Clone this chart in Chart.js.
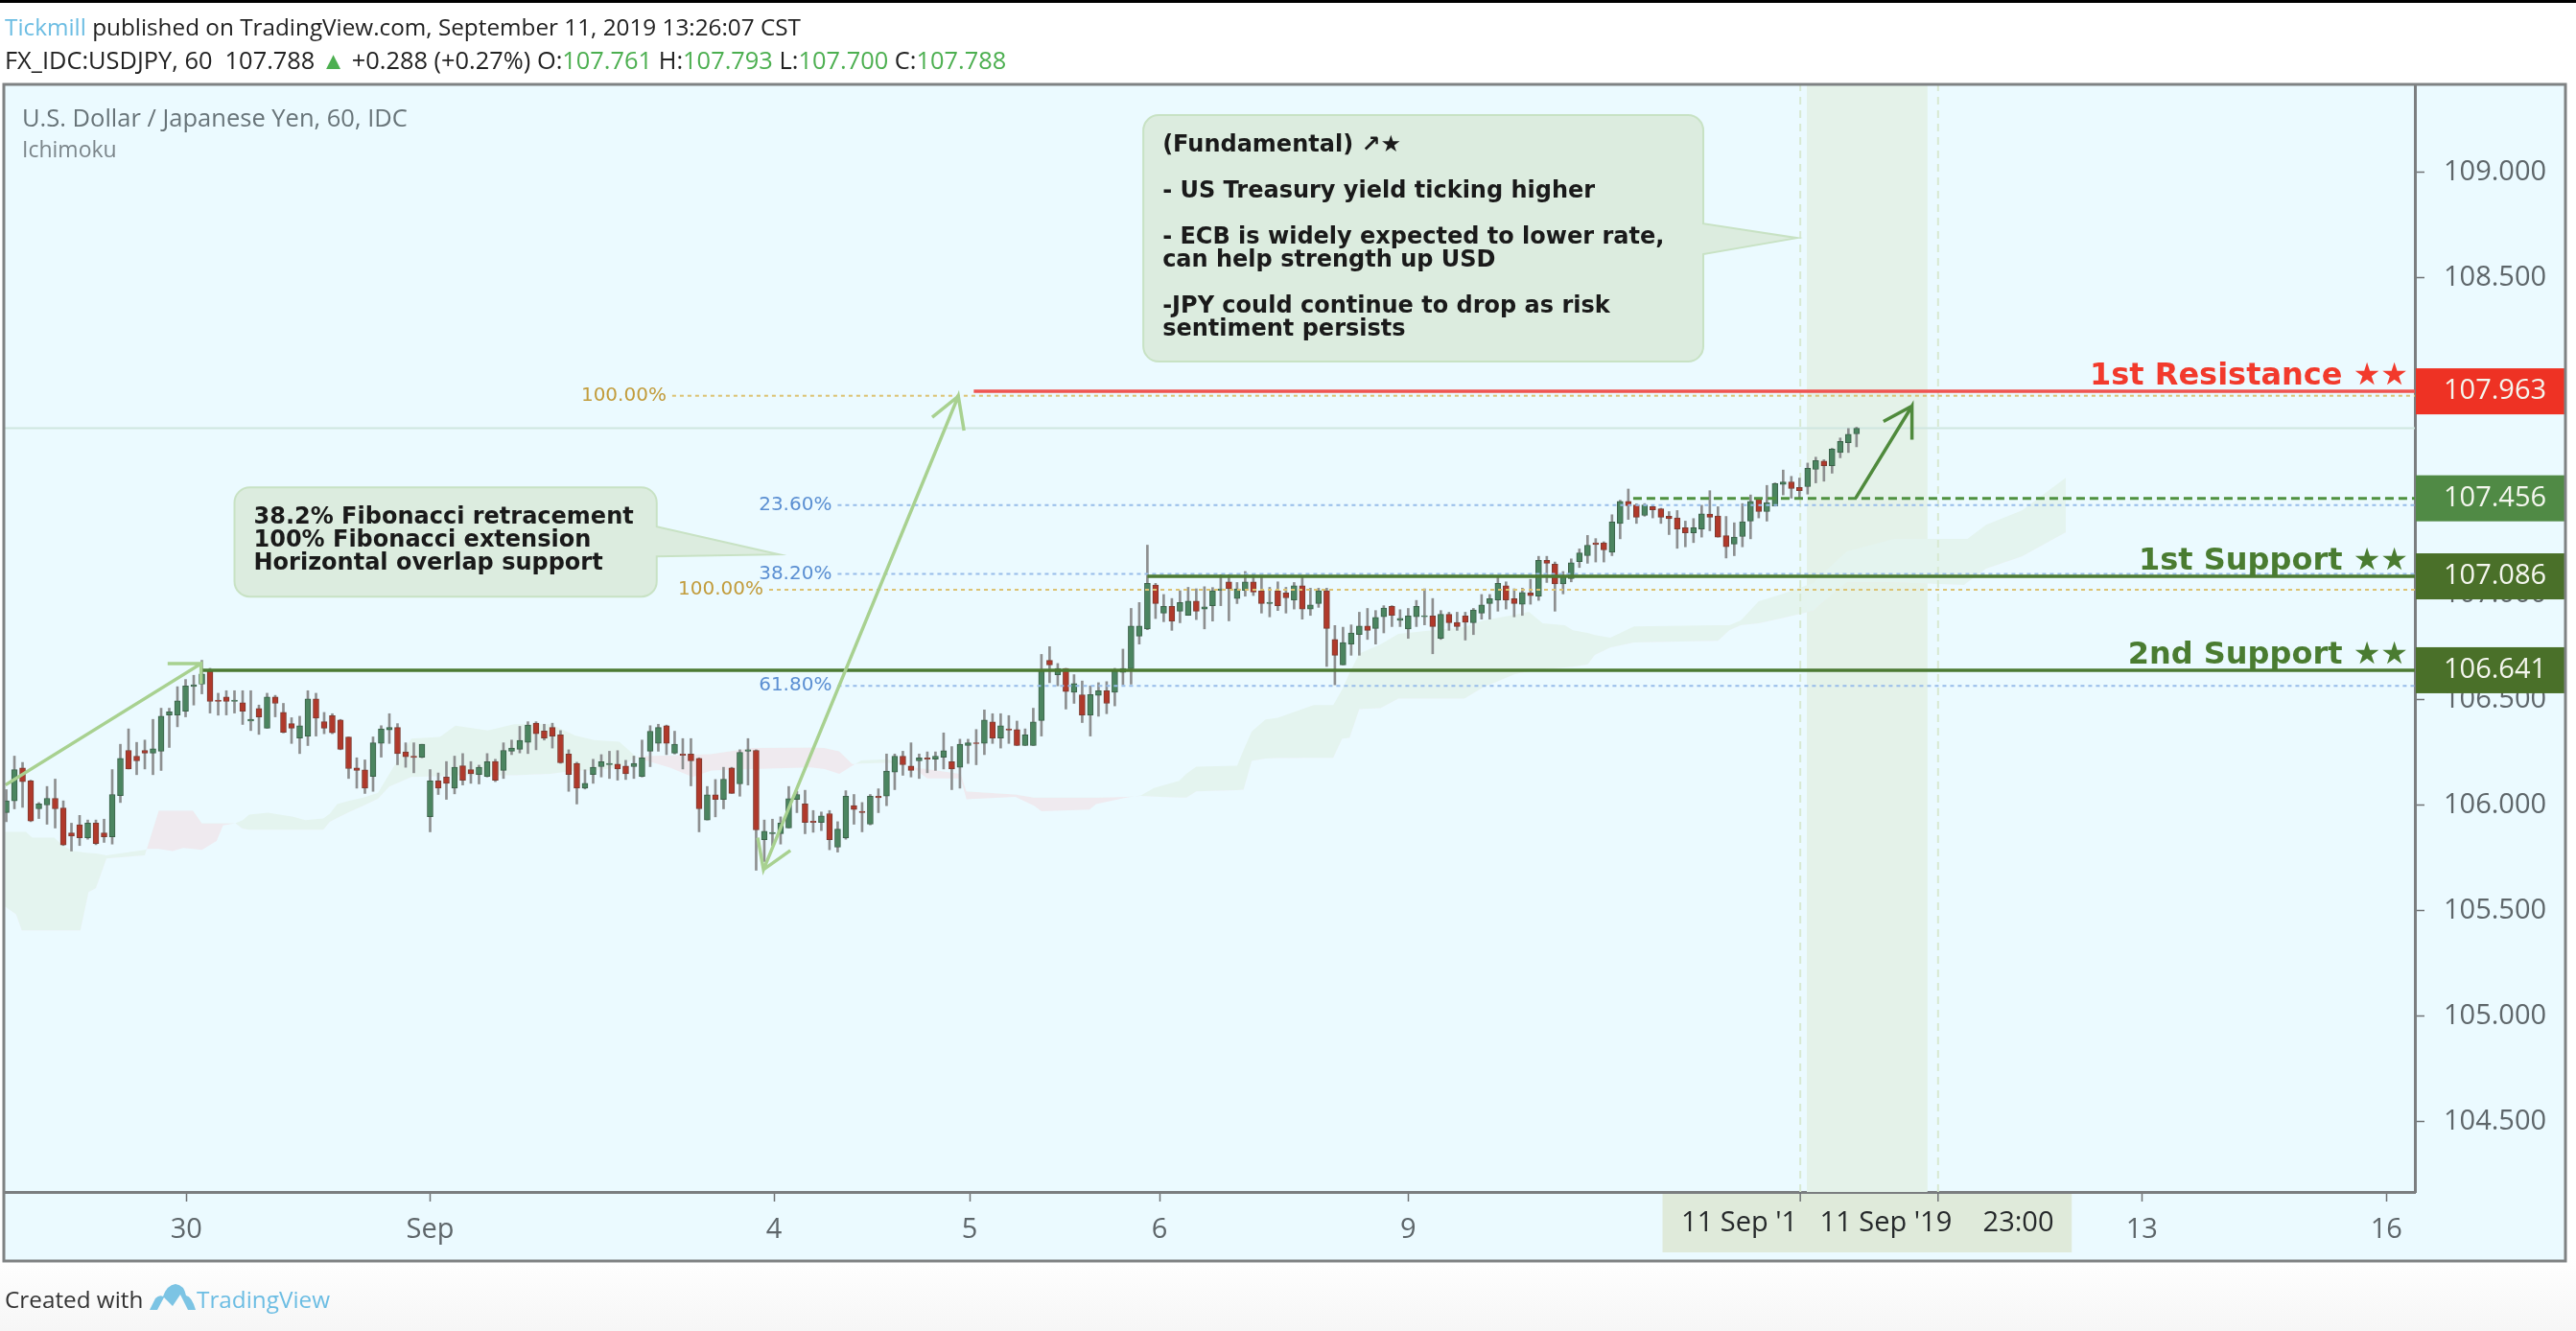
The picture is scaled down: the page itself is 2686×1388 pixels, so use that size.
<!DOCTYPE html>
<html>
<head>
<meta charset="utf-8">
<title>USDJPY 60</title>
<script src="https://cdn.jsdelivr.net/npm/chart.js@4"></script>
<style>
  html, body { margin: 0; padding: 0; }
  body { width: 2686px; height: 1388px; overflow: hidden; position: relative;
         background: linear-gradient(to bottom, #fff 0, #fff 1310px, #f6f6f6 1388px); }
  #topbar { position: absolute; left: 0; top: 0; width: 2686px; height: 3px; background: #000; }
  canvas { position: absolute; left: 0; top: 0; filter: blur(0.6px); }
  .head { position: absolute; left: 5px; font: 24.3px/30px "Open Sans", sans-serif; color: #222; white-space: pre; filter: blur(0.4px); }
  .blue { color: #6cbde3; }
  .up { color: #4caf50; }
  #footer { position: absolute; left: 5px; top: 1340px; font: 24.3px/30px "Open Sans", sans-serif; color: #333; filter: blur(0.4px); }
  #footer svg { position: absolute; left: 151px; top: -2px; }
  #footer span { position: absolute; left: 200px; top: 0; }
</style>
</head>
<body>
<div id="topbar"></div>
<div class="head" style="top:13px"><span class="blue">Tickmill</span> published on TradingView.com, September 11, 2019 13:26:07 CST</div>
<div class="head" style="top:47px;font-size:25.4px">FX_IDC:USDJPY, 60  107.788 <span class="up">▲</span> +0.288 (+0.27%) O:<span class="up">107.761</span> H:<span class="up">107.793</span> L:<span class="up">107.700</span> C:<span class="up">107.788</span></div>
<canvas id="chart" width="2686" height="1388"></canvas>
<div id="footer">Created with
  <svg width="48" height="30" viewBox="0 0 48 30"><path fill="#7cc4e4" d="M0 28 L6 16 Q10 12 14 14 Q18 2 27 1 Q36 2 38 13 Q44 14 48 28 L40 28 L32 12 L24 24 L15 15 L8 28 Z"/></svg>
  <span class="blue">TradingView</span>
</div>

<script>
// candles, one per hour
const candleOpen = [
  105.966,106.022,106.178,106.117,105.984,106.002,106.034,105.988,105.870,105.908,
  105.847,105.916,105.870,105.851,106.047,106.261,106.234,106.261,106.248,106.257,
  106.429,106.429,106.447,106.564,106.575,106.635,106.499,106.514,106.493,106.487,
  106.400,106.460,106.366,106.514,106.441,106.388,106.320,106.329,106.505,106.397,
  106.426,106.405,106.325,106.178,106.169,106.138,106.294,106.358,106.370,106.254,
  106.234,106.229,105.947,106.117,106.135,106.082,106.188,106.170,106.147,106.138,
  106.208,106.166,106.257,106.266,106.299,106.390,106.353,106.370,106.335,106.244,
  106.199,106.082,106.147,106.184,106.193,106.196,106.187,106.184,106.138,106.257,
  106.294,106.378,106.248,106.244,106.244,106.223,105.931,106.051,106.029,106.178,
  106.102,106.257,106.261,105.838,105.866,105.866,105.893,106.029,106.007,105.926,
  105.920,105.961,105.802,105.847,105.999,105.972,105.911,106.044,106.044,106.158,
  106.234,106.187,106.211,106.226,106.219,106.229,106.207,106.181,106.284,106.297,
  106.294,106.396,106.320,106.363,106.360,106.284,106.284,106.403,106.688,106.620,
  106.650,106.537,106.525,106.429,106.522,106.544,106.537,106.631,106.648,106.803,
  106.836,107.045,106.912,106.944,106.921,106.901,106.969,106.931,106.947,107.019,
  107.060,106.981,107.019,107.060,107.018,106.957,107.018,107.007,106.974,107.042,
  106.931,106.957,107.018,106.787,106.666,106.765,106.810,106.851,106.839,106.894,
  106.944,106.878,106.837,106.894,106.894,106.898,106.792,106.906,106.868,106.898,
  106.866,106.912,106.957,106.974,107.042,106.980,106.954,107.007,106.992,107.162,
  107.144,107.050,107.075,107.156,107.184,107.245,107.245,107.200,107.337,107.442,
  107.424,107.375,107.416,107.406,107.371,107.363,107.317,107.292,107.310,107.381,
  107.372,107.279,107.239,107.275,107.348,107.454,107.393,107.420,107.522,107.534,
  107.507,107.511,107.593,107.632,107.610,107.673,107.719,107.761
];
const candleHigh = [
  106.075,106.234,106.204,106.120,106.014,106.090,106.125,106.022,105.916,105.953,
  105.931,105.931,105.935,106.170,106.290,106.363,106.299,106.310,106.408,106.461,
  106.461,106.563,106.597,106.617,106.688,106.650,106.532,106.544,106.544,106.544,
  106.544,106.476,106.532,106.522,106.484,106.416,106.423,106.544,106.532,106.441,
  106.435,106.408,106.325,106.226,106.216,106.325,106.378,106.435,106.388,106.297,
  106.297,106.290,106.170,106.154,106.208,106.234,106.246,106.208,106.191,106.246,
  106.219,106.297,106.310,106.375,106.397,106.397,106.385,106.390,106.355,106.264,
  106.205,106.169,106.219,106.241,106.257,106.260,106.214,106.234,106.310,106.378,
  106.385,106.381,106.352,106.317,106.317,106.226,106.090,106.123,106.181,106.181,
  106.264,106.317,106.264,105.931,105.935,105.946,106.090,106.067,106.072,105.976,
  105.969,105.976,105.923,106.070,106.052,106.014,106.052,106.079,106.244,106.244,
  106.257,106.297,106.244,106.254,106.254,106.344,106.279,106.314,106.314,106.360,
  106.453,106.435,106.435,106.426,106.400,106.363,106.461,106.716,106.753,106.673,
  106.650,106.620,106.590,106.567,106.582,106.587,106.650,106.741,106.934,106.962,
  107.234,107.053,107.000,106.981,107.018,107.034,107.027,107.037,107.033,107.094,
  107.094,107.057,107.109,107.098,107.083,107.034,107.060,107.034,107.057,107.083,
  107.030,107.030,107.030,106.853,106.845,106.856,106.916,106.934,106.924,106.947,
  106.947,106.928,106.934,106.972,107.027,106.981,106.924,106.916,106.916,106.916,
  106.934,107.000,107.000,107.083,107.060,107.027,107.030,107.072,107.181,107.181,
  107.154,107.109,107.169,107.216,107.280,107.265,107.250,107.378,107.447,107.500,
  107.430,107.431,107.424,107.409,107.393,107.398,107.348,107.360,107.423,107.492,
  107.416,107.370,107.340,107.431,107.472,107.457,107.517,107.529,107.590,107.560,
  107.552,107.623,107.651,107.639,107.693,107.742,107.787,107.793
];
const candleLow = [
  105.923,105.984,105.991,105.923,105.938,105.911,105.893,105.810,105.784,105.810,
  105.840,105.814,105.825,105.817,106.014,106.173,106.146,106.173,106.146,106.166,
  106.275,106.373,106.420,106.476,106.529,106.438,106.428,106.429,106.438,106.384,
  106.355,106.337,106.366,106.420,106.344,106.294,106.246,106.284,106.329,106.340,
  106.340,106.264,106.128,106.082,106.057,106.067,106.229,106.294,106.193,106.181,
  106.155,106.226,105.875,106.052,106.029,106.055,106.097,106.105,106.102,106.135,
  106.113,106.128,106.241,106.249,106.246,106.264,106.310,106.272,106.200,106.067,
  106.007,106.078,106.105,106.135,106.128,106.120,106.123,106.128,106.135,106.184,
  106.257,106.241,106.244,106.173,106.093,105.875,105.931,105.946,105.984,106.057,
  106.044,106.097,105.693,105.734,105.810,105.817,105.893,105.966,105.866,105.873,
  105.881,105.790,105.779,105.840,105.911,105.875,105.908,105.966,105.999,106.075,
  106.143,106.135,106.128,106.155,106.166,106.173,106.075,106.082,106.199,106.193,
  106.241,106.294,106.272,106.294,106.284,106.284,106.284,106.329,106.582,106.567,
  106.457,106.484,106.393,106.329,106.423,106.435,106.472,106.572,106.575,106.765,
  106.833,106.886,106.871,106.830,106.866,106.901,106.881,106.837,106.874,106.947,
  106.875,106.957,106.992,106.995,106.912,106.894,106.924,106.912,106.931,106.883,
  106.901,106.939,106.659,106.572,106.666,106.712,106.712,106.787,106.765,106.818,
  106.848,106.848,106.792,106.848,106.856,106.719,106.787,106.830,106.830,106.784,
  106.810,106.883,106.883,106.921,106.931,106.894,106.901,106.954,106.972,107.057,
  106.921,107.003,107.060,107.128,107.148,107.154,107.154,107.184,107.264,107.356,
  107.337,107.371,107.363,107.337,107.284,107.219,107.226,107.246,107.272,107.302,
  107.272,107.173,107.184,107.226,107.264,107.363,107.348,107.419,107.472,107.457,
  107.454,107.476,107.529,107.537,107.575,107.648,107.673,107.700
];
const candleClose = [
  106.022,106.170,106.113,105.926,106.007,106.034,105.984,105.813,105.855,105.847,
  105.916,105.820,105.851,106.052,106.223,106.173,106.211,106.248,106.269,106.423,
  106.444,106.496,106.567,106.572,106.623,106.493,106.493,106.493,106.499,106.447,
  106.408,106.420,106.514,106.484,106.347,106.366,106.378,106.505,106.414,106.366,
  106.344,106.266,106.175,106.166,106.082,106.297,106.363,106.370,106.246,106.231,
  106.228,106.290,106.117,106.082,106.105,106.181,106.120,106.150,106.181,106.207,
  106.120,106.261,106.272,106.308,106.381,106.340,106.320,106.329,106.202,106.147,
  106.082,106.105,106.181,106.207,106.199,106.173,106.150,106.199,106.226,106.352,
  106.370,106.294,106.290,106.238,106.211,105.984,106.051,106.029,106.125,106.057,
  106.252,106.264,105.884,105.878,105.872,105.916,106.032,106.052,105.920,105.920,
  105.951,105.838,105.888,106.044,105.981,105.966,106.044,106.037,106.163,106.234,
  106.193,106.166,106.226,106.219,106.234,106.260,106.173,106.290,106.297,106.293,
  106.405,106.320,106.378,106.357,106.284,106.335,106.396,106.643,106.666,106.650,
  106.540,106.578,106.429,106.526,106.544,106.484,106.638,106.650,106.851,106.851,
  107.053,106.957,106.944,106.874,106.962,106.969,106.921,106.942,107.018,107.027,
  107.027,107.027,107.060,107.012,106.957,106.963,106.947,106.984,107.042,106.931,
  106.951,107.018,106.839,106.712,106.772,106.818,106.851,106.830,106.891,106.936,
  106.901,106.887,106.898,106.944,106.900,106.848,106.906,106.866,106.848,106.868,
  106.927,106.951,106.980,107.053,106.974,106.957,107.010,106.995,107.162,107.148,
  107.050,107.083,107.151,107.197,107.234,107.237,107.212,107.344,107.442,107.421,
  107.366,107.424,107.401,107.366,107.359,107.310,107.292,107.317,107.382,107.366,
  107.272,107.226,107.272,107.345,107.442,107.393,107.436,107.526,107.534,107.502,
  107.492,107.598,107.635,107.610,107.689,107.726,107.760,107.788
];

// Ichimoku cloud edges, bar position and the two spans
const cloudIndex = [
  -0.2,1.2,1.9,2.4,3.2,5.9,6.9,8.2,9.1,10.1,11,12.3,17,17.3,18.7,20.4,21.7,22.9,24,25.8,26.6,28.1,
  29,29.8,32.1,35.2,36.7,38.9,39.7,40.6,42.1,43.8,45.6,47,48.1,49.7,53.2,55.1,59.1,62.3,66.8,69.8,
  72.1,75.2,77.2,77.7,81.5,84.2,86.5,91.5,98.7,100.4,102.2,103.8,104.9,108.1,109.7,111.7,113,117.1,
  117.8,123.8,126.1,127,132.9,133.7,137.4,139.2,140.8,143.9,144.8,146,151,151.8,152.8,154.5,156,
  160.4,162.8,163.9,164.8,166,168.6,170.8,175,178.9,181.2,185.1,186.8,188.5,191.2,192.2,194,194.9,
  196.8,199.7,210,211.4,212.8,215,217.7,221.7,222.6,225.8,231.6,240.2,240.6,242.9,247.3,252.7
];
const cloudSpanA = [
  105.875,105.875,105.875,105.875,105.847,105.847,105.810,105.784,105.779,105.775,105.772,105.764,105.790,105.794,105.794,105.784,105.799,105.794,105.790,105.832,105.905,105.916,
  105.931,105.957,105.966,105.946,105.931,105.938,105.961,106.007,106.022,106.037,106.060,106.150,106.219,106.317,106.325,106.378,106.355,106.385,106.385,106.332,
  106.310,106.302,106.234,106.223,106.178,106.135,106.166,106.173,106.181,106.173,106.150,106.188,106.214,106.219,106.199,106.166,106.128,106.128,
  106.029,106.041,105.999,105.973,105.981,106.007,106.037,106.048,106.083,106.117,106.151,106.184,106.189,106.264,106.351,106.408,106.416,
  106.476,106.476,106.550,106.628,106.720,106.763,106.813,106.831,106.845,106.877,106.904,106.918,106.863,106.854,106.831,106.818,106.808,
  106.795,106.849,106.854,106.854,106.877,106.968,107.000,107.054,107.090,107.204,107.263,107.263,107.263,107.331,107.399,107.554
];
const cloudSpanB = [
  105.522,105.484,105.408,105.408,105.408,105.408,105.408,105.408,105.408,105.590,105.608,105.749,105.764,105.802,105.976,105.976,105.976,105.976,105.916,105.916,105.916,105.916,
  105.890,105.885,105.885,105.885,105.885,105.885,105.923,105.941,105.969,105.999,106.032,106.090,106.108,106.135,106.138,106.143,106.143,106.143,106.150,106.166,
  106.166,106.181,106.226,106.234,106.237,106.241,106.244,106.272,106.275,106.272,106.257,106.196,106.199,106.202,106.196,106.178,106.173,106.150,
  106.067,106.052,106.037,106.037,106.037,106.037,106.041,106.045,106.042,106.037,106.037,106.067,106.072,106.075,106.211,106.223,106.225,
  106.226,106.226,106.317,106.320,106.457,106.461,106.507,106.507,106.507,106.560,106.622,106.636,106.645,106.654,106.658,106.668,106.713,
  106.749,106.772,106.781,106.831,106.854,106.863,106.886,106.922,106.954,107.058,107.058,107.045,107.058,107.122,107.181,107.295
];

// horizontal levels
const resistanceLevel = 107.963;
const supportLevel1 = 107.086;
const supportLevel2 = 106.641;
const dashedLevel = 107.456;
const fib100Upper = 107.942;
const fib100Lower = 107.022;
const fib236 = 107.424;
const fib382 = 107.097;
const fib618 = 106.567;
const lastPrice = 107.788;

// drawn arrows as bar position / price paths (heads included)
const arrowUpX = [19.8, 23.9, 23.9, 23.9, -0.1];
const arrowUpY = [106.672, 106.672, 106.576, 106.672, 106.097];
const arrowFibX = [113.6, 116.8, 117.5, 116.8, 92.9, 92.2, 92.9, 96.2];
const arrowFibY = [107.840, 107.940, 107.777, 107.940, 105.696, 105.847, 105.696, 105.787];
const arrowNextX = [230.3, 233.8, 233.8, 233.8, 226.9];
const arrowNextY = [107.820, 107.893, 107.734, 107.893, 107.457];

// axis
const priceMin = 104.168;
const priceMax = 109.418;
const priceTicks = [104.5, 105, 105.5, 106, 106.5, 107, 107.5, 108, 108.5, 109];
const barMin = -0.18;
const barMax = 295.5;
const xTickIndex = [22.1, 52, 94.2, 118.2, 141.5, 172, 220.1, 237, 262, 292];
const xTickLabels = ['30', 'Sep', '4', '5', '6', '9', '', '', '13', '16'];
const rangeStart = 220.1;
const rangeEnd = 237;
const bandStart = 220.9;
const bandEnd = 235.7;

const GREEN_BODY = '#4b8560', GREEN_EDGE = '#3b6149';
const RED_BODY = '#b0392b', RED_EDGE = '#7c3b31';
const LABEL_FONT = '"DejaVu Sans", sans-serif';
const AXIS_FONT = '"Open Sans", sans-serif';

function hline(y, from, to, color, width, dash, order) {
    return {
        type: 'line', data: [{ x: from, y: y }, { x: to, y: y }],
        borderColor: color, borderWidth: width, borderDash: dash || [],
        pointRadius: 0, fill: false, order: order
    };
}

function pathLine(xs, ys, color) {
    return {
        type: 'line', data: xs.map((x, i) => ({ x: x, y: ys[i] })),
        borderColor: color, borderWidth: 3.5, pointRadius: 0, fill: false, order: 0
    };
}

const isUp = candleOpen.map((o, i) => candleClose[i] >= o);
const datasets = [
    // cloud
    {
        type: 'line', data: cloudIndex.map((x, i) => ({ x: x, y: cloudSpanA[i] })),
        borderWidth: 0, pointRadius: 0, order: 20,
        fill: { target: '+1', above: '#e4f4ef', below: '#efeaef' }
    },
    {
        type: 'line', data: cloudIndex.map((x, i) => ({ x: x, y: cloudSpanB[i] })),
        borderWidth: 0, pointRadius: 0, order: 20, fill: false
    },
    // date range edges
    {
        type: 'line', data: [{ x: rangeStart, y: priceMin }, { x: rangeStart, y: priceMax }],
        borderColor: '#d8e9d2', borderWidth: 2, borderDash: [8, 6], pointRadius: 0, order: 19
    },
    {
        type: 'line', data: [{ x: rangeEnd, y: priceMin }, { x: rangeEnd, y: priceMax }],
        borderColor: '#d8e9d2', borderWidth: 2, borderDash: [8, 6], pointRadius: 0, order: 19
    },
    // wicks then bodies
    {
        type: 'bar', grouped: false, barThickness: 2, order: 6,
        data: candleHigh.map((h, i) => ({ x: i, y: [candleLow[i], h] })),
        backgroundColor: '#8d8f90', borderWidth: 0
    },
    {
        type: 'bar', grouped: false, barThickness: 6, order: 5,
        data: candleOpen.map((o, i) => ({ x: i, y: [o, candleClose[i]] })),
        backgroundColor: isUp.map(u => u ? GREEN_BODY : RED_BODY),
        borderColor: isUp.map(u => u ? GREEN_EDGE : RED_EDGE),
        borderWidth: 1, borderSkipped: false
    },
    // levels
    hline(lastPrice, barMin, barMax, '#cfe6e0', 2, null, 10),
    hline(fib100Upper, 81.7, barMax, '#dcc272', 2, [4, 4], 3),
    hline(fib100Lower, 93.6, barMax, '#dcc272', 2, [4, 4], 3),
    hline(fib236, 102, barMax, '#97bce9', 2, [4, 4], 3),
    hline(fib382, 102, barMax, '#97bce9', 2, [4, 4], 3),
    hline(fib618, 102, barMax, '#97bce9', 2, [4, 4], 3),
    hline(resistanceLevel, 118.7, barMax, '#ef5350', 3.5, null, 2),
    hline(dashedLevel, 199.6, barMax, '#4f9140', 3, [9, 5], 2),
    hline(supportLevel1, 140, barMax, '#4c7a33', 3.5, null, 2),
    hline(supportLevel2, 24, barMax, '#4c7a33', 3.5, null, 2),
    // arrows
    pathLine(arrowUpX, arrowUpY, '#a8d190'),
    pathLine(arrowFibX, arrowFibY, '#a8d190'),
    pathLine(arrowNextX, arrowNextY, '#4f8a3c')
];

function callout(ctx, sc, box, lines) {
    const x0 = sc.x.getPixelForValue(box.left), x1 = sc.x.getPixelForValue(box.right);
    const y0 = sc.y.getPixelForValue(box.top), y1 = sc.y.getPixelForValue(box.bottom);
    const r = 16;
    ctx.beginPath();
    ctx.moveTo(x0 + r, y0);
    ctx.arcTo(x1, y0, x1, y1, r);
    ctx.lineTo(x1, sc.y.getPixelForValue(box.baseTop));
    ctx.lineTo(sc.x.getPixelForValue(box.tipX), sc.y.getPixelForValue(box.tipY));
    ctx.lineTo(x1, sc.y.getPixelForValue(box.baseBottom));
    ctx.arcTo(x1, y1, x0, y1, r);
    ctx.arcTo(x0, y1, x0, y0, r);
    ctx.arcTo(x0, y0, x1, y0, r);
    ctx.closePath();
    ctx.fillStyle = '#dcecdf';
    ctx.strokeStyle = '#c8e2c4';
    ctx.lineWidth = 2;
    ctx.fill();
    ctx.stroke();
    ctx.fillStyle = '#1a1a1a';
    ctx.font = 'bold 24px ' + LABEL_FONT;
    ctx.textAlign = 'left';
    ctx.textBaseline = 'middle';
    lines.forEach(l => ctx.fillText(l[0], x0 + 20, y0 + l[1]));
}

function priceTag(ctx, chart, value, color) {
    const area = chart.chartArea;
    const y = chart.scales.y.getPixelForValue(value);
    ctx.fillStyle = color;
    ctx.fillRect(area.right + 1, y - 24, chart.scales.y.right - area.right - 1, 48);
    ctx.fillStyle = '#f4f6ee';
    ctx.font = '29px ' + AXIS_FONT;
    ctx.textAlign = 'left';
    ctx.textBaseline = 'middle';
    ctx.fillText(value.toFixed(3), area.right + 30, y);
}

function levelText(ctx, chart, text, level, color) {
    ctx.fillStyle = color;
    ctx.font = 'bold 32px ' + LABEL_FONT;
    ctx.textAlign = 'right';
    ctx.textBaseline = 'alphabetic';
    ctx.fillText(text, chart.chartArea.right - 7, chart.scales.y.getPixelForValue(level) - 7);
}

function fibText(ctx, chart, text, index, level, color) {
    ctx.fillStyle = color;
    ctx.font = '20px ' + LABEL_FONT;
    ctx.textAlign = 'right';
    ctx.textBaseline = 'middle';
    ctx.fillText(text, chart.scales.x.getPixelForValue(index) - 6, chart.scales.y.getPixelForValue(level));
}

const paneDecor = {
    id: 'paneDecor',
    beforeDraw(chart) {
        const { ctx, chartArea, scales } = chart;
        ctx.save();
        ctx.fillStyle = '#ebfaff';
        ctx.fillRect(chartArea.left, chartArea.top, scales.y.right - chartArea.left, scales.x.bottom - chartArea.top);
        ctx.restore();
    },
    beforeDatasetsDraw(chart) {
        const { ctx, chartArea, scales } = chart;
        const x0 = scales.x.getPixelForValue(bandStart), x1 = scales.x.getPixelForValue(bandEnd);
        ctx.save();
        ctx.fillStyle = '#e4f2e9';
        ctx.fillRect(x0, chartArea.top, x1 - x0, chartArea.bottom - chartArea.top);
        ctx.restore();
    },
    afterDraw(chart) {
        const { ctx, chartArea, scales } = chart;
        ctx.save();

        // date range label on the time axis
        const bx0 = scales.x.getPixelForValue(203.2), bx1 = scales.x.getPixelForValue(253.4);
        ctx.fillStyle = '#dfeada';
        ctx.fillRect(bx0, chartArea.bottom + 2, bx1 - bx0, 61);
        ctx.fillStyle = '#26292b';
        ctx.font = '29px ' + AXIS_FONT;
        ctx.textAlign = 'left';
        ctx.textBaseline = 'middle';
        ctx.fillText("11 Sep '1", scales.x.getPixelForValue(205.5), chartArea.bottom + 33);
        ctx.fillText("11 Sep '19", scales.x.getPixelForValue(222.5), chartArea.bottom + 33);
        ctx.fillText('23:00', scales.x.getPixelForValue(242.5), chartArea.bottom + 33);
        // tick marks stay visible on top of that label
        ctx.strokeStyle = '#6f7274';
        ctx.lineWidth = 1.5;
        [rangeStart, rangeEnd].forEach(v => {
            const x = scales.x.getPixelForValue(v);
            ctx.beginPath();
            ctx.moveTo(x, chartArea.bottom);
            ctx.lineTo(x, chartArea.bottom + 10);
            ctx.stroke();
        });

        priceTag(ctx, chart, resistanceLevel, '#ee3224');
        priceTag(ctx, chart, dashedLevel, '#508a45');
        priceTag(ctx, chart, supportLevel1, '#4a7029');
        priceTag(ctx, chart, supportLevel2, '#4a7029');

        levelText(ctx, chart, '1st Resistance ★★', resistanceLevel, '#f23a2c');
        levelText(ctx, chart, '1st Support ★★', supportLevel1, '#4a7c31');
        levelText(ctx, chart, '2nd Support ★★', supportLevel2, '#4a7c31');

        fibText(ctx, chart, '100.00%', 81.7, fib100Upper, '#c29c3c');
        fibText(ctx, chart, '100.00%', 93.6, fib100Lower, '#c29c3c');
        fibText(ctx, chart, '23.60%', 102, fib236, '#5b8fd2');
        fibText(ctx, chart, '38.20%', 102, fib382, '#5b8fd2');
        fibText(ctx, chart, '61.80%', 102, fib618, '#5b8fd2');

        callout(ctx, scales, {
            left: 139.5, right: 208.2, top: 109.272, bottom: 108.104,
            baseTop: 108.758, baseBottom: 108.613, tipX: 219.7, tipY: 108.69
        }, [
            ['(Fundamental) ↗★', 32],
            ['- US Treasury yield ticking higher', 80],
            ['- ECB is widely expected to lower rate,', 128],
            ['can help strength up USD', 152],
            ['-JPY could continue to drop as risk', 200],
            ['sentiment persists', 224]
        ]);
        callout(ctx, scales, {
            left: 28, right: 79.8, top: 107.508, bottom: 106.990,
            baseTop: 107.322, baseBottom: 107.181, tipX: 94.8, tipY: 107.19
        }, [
            ['38.2% Fibonacci retracement', 32],
            ['100% Fibonacci extension', 56],
            ['Horizontal overlap support', 80]
        ]);

        // symbol title
        ctx.textAlign = 'left';
        ctx.textBaseline = 'middle';
        ctx.fillStyle = '#687479';
        ctx.font = '25.5px ' + AXIS_FONT;
        ctx.fillText('U.S. Dollar / Japanese Yen, 60, IDC', chartArea.left + 18, 125);
        ctx.fillStyle = '#7c868b';
        ctx.font = '23px ' + AXIS_FONT;
        ctx.fillText('Ichimoku', chartArea.left + 18, 157);

        // pane frame
        ctx.strokeStyle = '#7f8283';
        ctx.lineWidth = 3;
        ctx.strokeRect(chartArea.left - 1, chartArea.top, scales.y.right - chartArea.left + 1, scales.x.bottom - chartArea.top);
        ctx.restore();
    }
};

new Chart(document.getElementById('chart'), {
    data: { datasets: datasets },
    plugins: [paneDecor],
    options: {
        responsive: false,
        devicePixelRatio: 1,
        animation: false,
        events: [],
        layout: { padding: { left: 5, top: 88, right: 11, bottom: 73 } },
        plugins: { legend: { display: false }, tooltip: { enabled: false } },
        scales: {
            x: {
                type: 'linear', min: barMin, max: barMax, offset: false,
                afterBuildTicks: scale => { scale.ticks = xTickIndex.map(v => ({ value: v })); },
                afterFit: scale => { scale.height = 72; },
                border: { color: '#7b7e80', width: 3 },
                grid: { offset: false, drawOnChartArea: false, color: '#6f7274', tickLength: 10, tickWidth: 1.5 },
                ticks: {
                    autoSkip: false, maxRotation: 0, padding: 12, color: '#5e666a',
                    font: { family: AXIS_FONT, size: 29 },
                    callback: (value, i) => xTickLabels[i]
                }
            },
            y: {
                position: 'right', min: priceMin, max: priceMax,
                afterBuildTicks: scale => { scale.ticks = priceTicks.map(v => ({ value: v })); },
                afterFit: scale => { scale.width = 157; },
                border: { color: '#7b7e80', width: 3 },
                grid: { drawOnChartArea: false, color: '#6f7274', tickLength: 10, tickWidth: 1.5 },
                ticks: {
                    padding: 20, color: '#5e666a',
                    font: { family: AXIS_FONT, size: 29 },
                    callback: value => value.toFixed(3)
                }
            }
        }
    }
});
</script>
</body>
</html>
